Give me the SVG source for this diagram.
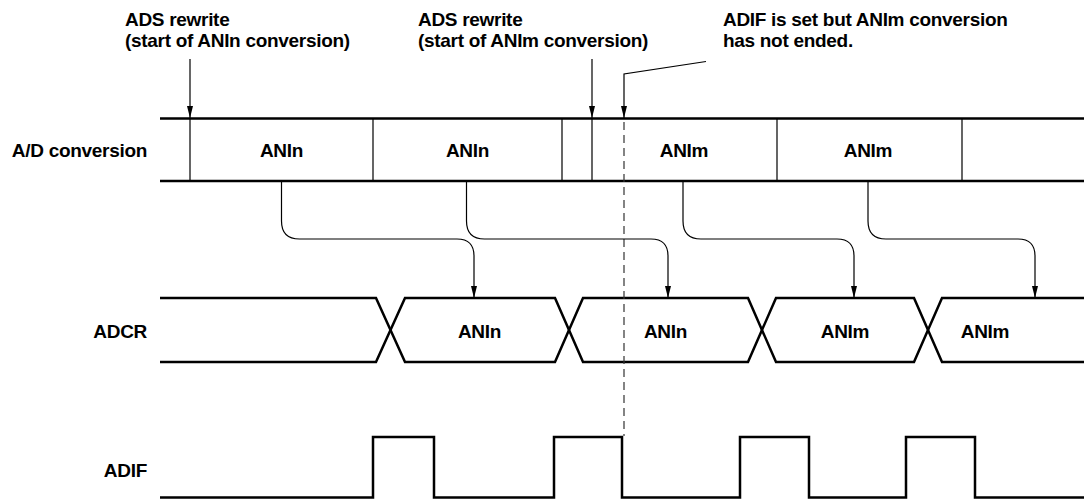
<svg xmlns="http://www.w3.org/2000/svg" width="1084" height="499" viewBox="0 0 1084 499">
<defs>
<style>
text{font-family:"Liberation Sans",Arial,Helvetica,sans-serif;font-weight:bold;font-size:19px;letter-spacing:-0.3px;fill:#000}
.lbl{text-anchor:end}
.mid{text-anchor:middle}
.sig{fill:none;stroke:#000;stroke-width:2.5;stroke-linejoin:miter}
.thin{fill:none;stroke:#000;stroke-width:1.2}
.dash{fill:none;stroke:#333;stroke-width:1.2;stroke-dasharray:8 5}
.arr{fill:none;stroke:#000;stroke-width:1.2;marker-end:url(#ah)}
</style>
<marker id="ah" viewBox="0 0 12 6" refX="12" refY="3" markerWidth="12" markerHeight="6" markerUnits="userSpaceOnUse" orient="auto">
<path d="M0,0 L12,3 L0,6 z" fill="#000"/>
</marker>
</defs>
<rect width="1084" height="499" fill="#fff"/>

<g id="annotations">
<text x="125" y="26">ADS rewrite</text>
<text x="125" y="47">(start of ANIn conversion)</text>
<text x="418" y="26">ADS rewrite</text>
<text x="418" y="47">(start of ANIm conversion)</text>
<text x="723" y="26">ADIF is set but ANIm conversion</text>
<text x="723" y="47">has not ended.</text>
</g>

<g id="ad-conversion">
<text class="lbl" x="147" y="157">A/D conversion</text>
<path class="sig" d="M160,118.5 H1084 M160,181 H1084"/>
<path class="thin" d="M190,118 V181 M373,118 V181 M562,118 V181 M592,118 V181 M777,118 V181 M962,118 V181"/>
<text class="mid" x="281.5" y="157">ANIn</text>
<text class="mid" x="467.5" y="157">ANIn</text>
<text class="mid" x="684" y="157">ANIm</text>
<text class="mid" x="868" y="157">ANIm</text>
</g>

<g id="adcr">
<text class="lbl" x="147" y="338">ADCR</text>
<path class="sig" d="M160,298 H376 L405,362 H555 L583,298 H748 L776,362 H914 L942,298 H1084"/>
<path class="sig" d="M160,362 H376 L405,298 H555 L583,362 H748 L776,298 H914 L942,362 H1084"/>
<text class="mid" x="479.5" y="338">ANIn</text>
<text class="mid" x="665.5" y="338">ANIn</text>
<text class="mid" x="845" y="338">ANIm</text>
<text class="mid" x="985" y="338">ANIm</text>
</g>

<g id="adif">
<text class="lbl" x="147" y="476.5">ADIF</text>
<path class="sig" d="M160,497.5 H373 V437 H434 V497.5 H554 V437 H622 V497.5 H740 V437 H809 V497.5 H906 V437 H975 V497.5 H1084"/>
</g>

<g id="connectors">
<path class="arr" d="M190,59 V118"/>
<path class="arr" d="M592,59 V118"/>
<path class="arr" d="M706,61.5 L624,74 V118"/>
<path class="dash" d="M624,122 V436"/>
<path class="arr" d="M281.5,181 V221 Q281.5,239 299.5,239 H457 Q474,239 474,256 V298"/>
<path class="arr" d="M466.5,181 V221 Q466.5,239 484.5,239 H651 Q668,239 668,256 V298"/>
<path class="arr" d="M683,181 V221 Q683,239 701,239 H837 Q854,239 854,256 V298"/>
<path class="arr" d="M868,181 V221 Q868,239 886,239 H1018 Q1035,239 1035,256 V298"/>
</g>
</svg>
